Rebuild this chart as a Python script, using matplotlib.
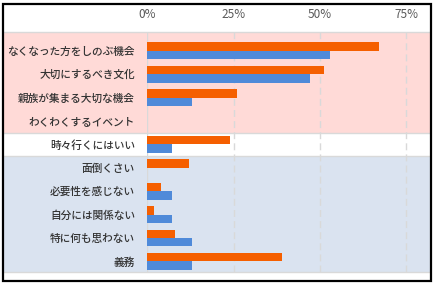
import matplotlib.pyplot as plt
import matplotlib.transforms as mtransforms
from matplotlib.patches import Rectangle
import numpy as np

plt.rcParams['font.family'] = ['Noto Sans CJK JP', 'DejaVu Sans']

categories = ['なくなった方をしのぶ機会', '大切にするべき文化', '親族が集まる大切な機会',
              'わくわくするイベント', '時々行くにはいい', '面倒くさい', '必要性を感じない',
              '自分には関係ない', '特に何も思わない', '義務']
orange_vals = [0.67, 0.51, 0.26, 0.0, 0.24, 0.12, 0.04, 0.02, 0.08, 0.39]
blue_vals = [0.53, 0.47, 0.13, 0.0, 0.07, 0.0, 0.07, 0.07, 0.13, 0.13]
xticks = [0, 0.25, 0.5, 0.75]
xtick_labels = ['0%', '25%', '50%', '75%']

W, H = 435, 285
fig = plt.figure(figsize=(W / 100, H / 100), dpi=100)
ax = fig.add_axes([147.5 / W, 1 - 272 / H, (423.7 - 147.5) / W, (272 - 32) / H])
ax.set_zorder(3)
ax.set_xlim(0, 0.8)
ax.set_ylim(9.45, -0.8)
ax.patch.set_visible(False)

# background bands across the whole frame
trans = mtransforms.blended_transform_factory(fig.transFigure, ax.transData)
bands = [(-0.8, 3.5, '#FFDAD7'), (3.5, 4.5, 'white'), (4.5, 9.45, '#DAE3F0')]
for y0, y1, c in bands:
    fig.patches.append(Rectangle((4 / W, y0), (430 - 4) / W, y1 - y0, transform=trans,
                                 facecolor=c, edgecolor='none', zorder=0))
for yy in [-0.8, 3.5, 4.5, 9.45]:
    fig.lines.append(plt.Line2D([4 / W, 430 / W], [yy, yy], transform=trans,
                                color='#D9D9D9', lw=1.0, zorder=1))

y = np.arange(len(categories))
h = 0.36
ax.barh(y - h / 2, orange_vals, height=h, color='#F55F00', zorder=3)
ax.barh(y + h / 2, blue_vals, height=h, color='#4F8AD9', zorder=3)

for xt in xticks[1:]:
    ax.axvline(xt, color='#D9D9D9', lw=1.0, ls=(0, (5, 3)), zorder=2)
ax.axvline(0, color='#D9D9D9', lw=1.0, zorder=2)

ax.xaxis.tick_top()
ax.set_xticks(xticks)
ax.set_xticklabels(xtick_labels, fontsize=8.5, color='#595959')
ax.tick_params(axis='x', length=0, pad=8)
ax.set_yticks(y)
ax.set_yticklabels(categories, fontsize=7.7, color='#333333', fontweight='medium')
ax.tick_params(axis='y', length=0, pad=9)
for s in ax.spines.values():
    s.set_visible(False)

fig.patches.append(Rectangle((3.5 / W, 1 - 280.5 / H), 427.5 / W, 276.5 / H,
                             transform=fig.transFigure, facecolor='none',
                             edgecolor='black', lw=1.6, zorder=5))

fig.savefig('out.png', dpi=100)
